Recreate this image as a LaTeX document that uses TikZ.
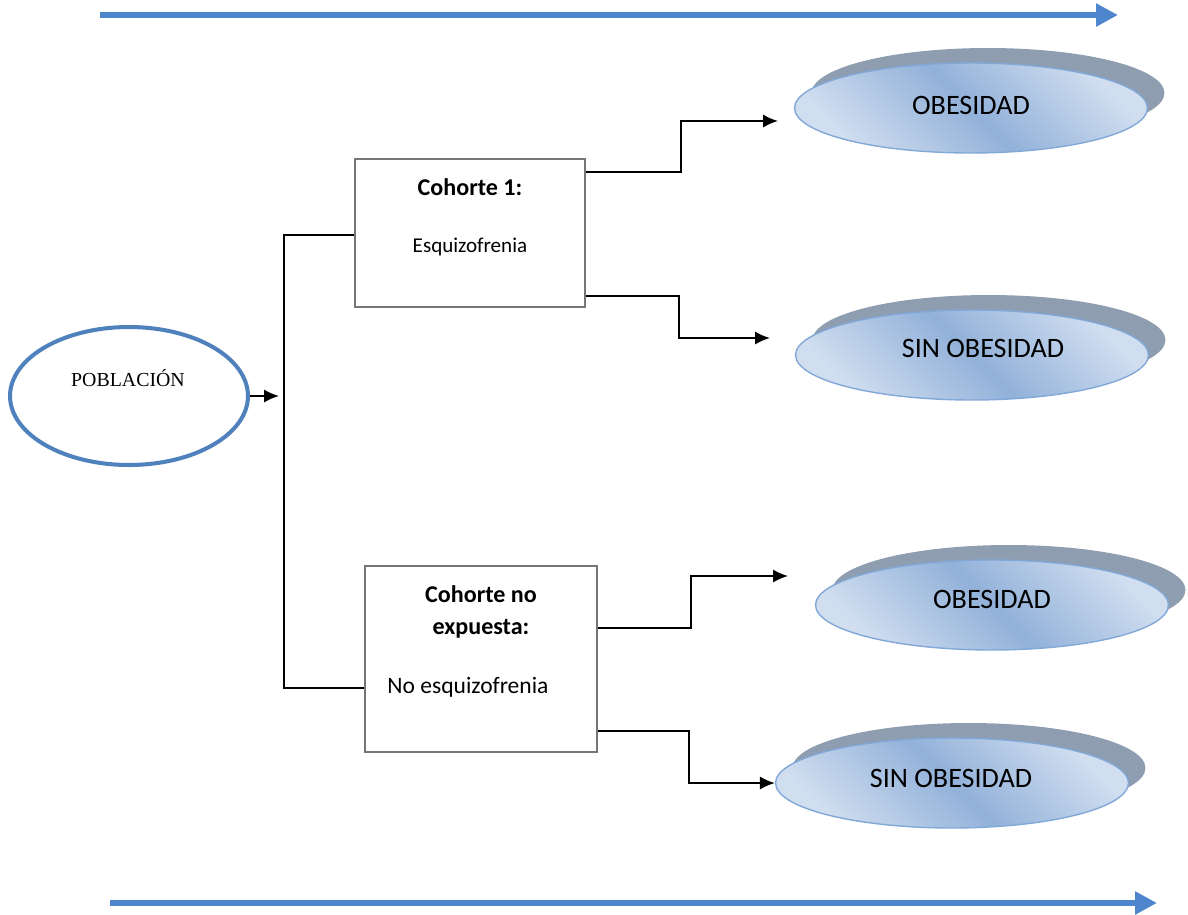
\documentclass[tikz,border=0pt]{standalone}
\usepackage{fontspec}
\setmainfont{Carlito}
\newfontfamily\pobfont{Liberation Serif}
\usetikzlibrary{shapes.geometric,arrows.meta,calc}
\definecolor{pobblue}{RGB}{79,129,189}
\definecolor{bigblue}{RGB}{78,134,206}
\definecolor{boxgray}{RGB}{118,118,118}
\definecolor{ovedge}{RGB}{130,168,216}
\definecolor{ovlight}{RGB}{208,222,240}
\definecolor{ovdark}{RGB}{146,177,217}
\definecolor{ovshadow}{RGB}{142,157,176}

\begin{document}
\begin{tikzpicture}[x=0.02cm,y=-0.02cm,>={Latex[length=8.5pt,width=7.5pt]}]
\tikzstyle{cohort}=[rectangle,draw=boxgray,line width=1pt,inner sep=0pt]
\tikzstyle{outshadow}=[ellipse,fill=ovshadow,inner sep=0pt,
minimum width=7.06cm,minimum height=1.8cm]
\tikzstyle{outcome}=[ellipse,draw=ovedge,line width=0.8pt,inner sep=0pt,
minimum width=7.06cm,minimum height=1.8cm,
top color=ovlight,bottom color=ovlight,middle color=ovdark,shading angle=-45]
\tikzstyle{txt}=[anchor=base,inner sep=0pt]
\tikzstyle{outtxt}=[txt,font=\fontsize{16}{19}\selectfont]
\tikzstyle{flow}=[line width=1pt]
\tikzstyle{timeline}=[draw=bigblue,line width=3.4pt,
-{Triangle[length=12.5pt,width=12.5pt]}]

\useasboundingbox (0,0) rectangle (1188,914);

% time axis
\coordinate (t0) at (100,15);
\coordinate (t1) at (1118,15);
\coordinate (b0) at (110,903);
\coordinate (b1) at (1157,903);
\draw[timeline] (t0) -- (t1);
\draw[timeline] (b0) -- (b1);

% population
\node[ellipse,draw=pobblue,line width=2.3pt,minimum width=4.76cm,
minimum height=2.76cm] at (129,396) (pob) {};
\node[txt,font=\pobfont\fontsize{11.3}{13}\selectfont] at (128,386) (pobt) {POBLACIÓN};

% cohorts
\node[cohort,minimum width=4.6cm,minimum height=2.96cm] at (470,233) (c1) {};
\node[txt,font=\bfseries\fontsize{13.7}{16}\selectfont] at (470,195) (c1a) {Cohorte 1:};
\node[txt,font=\fontsize{12}{14}\selectfont] at (470,252) (c1b) {Esquizofrenia};

\node[cohort,minimum width=4.64cm,minimum height=3.72cm] at (481,659) (c2) {};
\node[txt,font=\bfseries\fontsize{13.7}{16}\selectfont] at (481,602) (c2a) {Cohorte no};
\node[txt,font=\bfseries\fontsize{13.7}{16}\selectfont] at (481,634) (c2b) {expuesta:};
\node[txt,font=\fontsize{13.4}{16}\selectfont] at (468,693) (c2c) {No esquizofrenia};

% outcomes
\node[outshadow] at (988,93) (o1s) {};
\node[outcome] at (971,108) (o1) {};
\node[outtxt] at (971,114) (o1t) {OBESIDAD};

\node[outshadow] at (989,340) (o2s) {};
\node[outcome] at (972,355) (o2) {};
\node[outtxt] at (983,357) (o2t) {SIN OBESIDAD};

\node[outshadow] at (1009,590) (o3s) {};
\node[outcome] at (992,605) (o3) {};
\node[outtxt] at (992,608) (o3t) {OBESIDAD};

\node[outshadow] at (969,768) (o4s) {};
\node[outcome] at (952,783) (o4) {};
\node[outtxt] at (951,787) (o4t) {SIN OBESIDAD};

% connectors
\coordinate (brin) at (279,396);
\coordinate (br1) at (284,235);
\coordinate (br2) at (284,688);
\coordinate (e1) at (778,121);
\coordinate (e2) at (770,338);
\coordinate (e3) at (788,576);

\draw[flow,->] (pob.east) -- (brin);
\draw[flow] (c1.west |- br1) -- (br1) -- (br2) -- (c2.west |- br2);
\draw[flow,->] ($(c1.north east)+(0,14)$) -- ++(95,0) |- (e1);
\draw[flow,->] ($(c1.south east)+(0,-12)$) -- ++(93,0) |- (e2);
\draw[flow,->] ($(c2.north east)+(0,63)$) -- ++(93,0) |- (e3);
\draw[flow,->] ($(c2.south east)+(0,-22)$) -- ++(91,0) |- (o4.west);

\end{tikzpicture}
\end{document}
